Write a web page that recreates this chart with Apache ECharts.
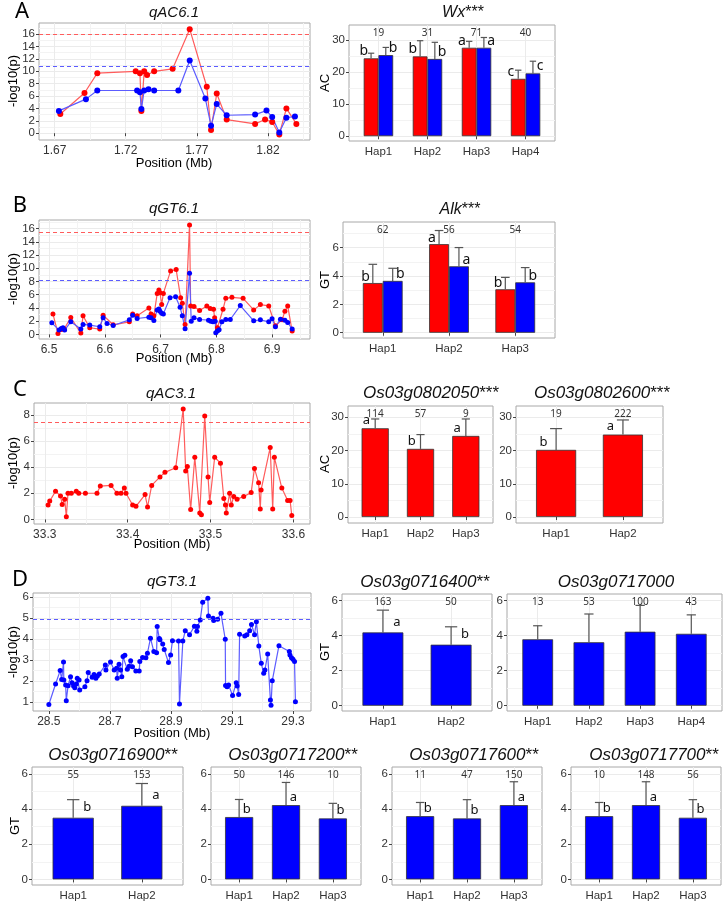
<!DOCTYPE html>
<html>
<head>
<meta charset="utf-8">
<title>QTL scans and haplotype bars</title>
<script src="https://cdn.jsdelivr.net/npm/echarts@6/dist/echarts.min.js"></script>
<style>
  html, body { margin: 0; padding: 0; background: #fff; }
  #main { width: 728px; height: 920px; }
</style>
</head>
<body>
<div id="main"></div>
<script>
// ---------- data ----------
// A: qAC6.1
const posA_red = [1.674, 1.691, 1.700, 1.727, 1.730, 1.731, 1.733, 1.735, 1.740, 1.753, 1.765, 1.777, 1.780, 1.784, 1.791, 1.811, 1.818, 1.823, 1.828, 1.833, 1.840];
const logpA_red = [3.1, 6.5, 9.7, 10.0, 9.7, 3.6, 10.0, 9.4, 10.0, 10.4, 16.8, 7.5, 0.5, 6.4, 2.2, 1.5, 2.2, 1.8, -0.2, 4.0, 1.5];
const posA_blue = [1.673, 1.692, 1.700, 1.728, 1.730, 1.731, 1.733, 1.736, 1.740, 1.757, 1.765, 1.776, 1.780, 1.784, 1.791, 1.811, 1.819, 1.823, 1.828, 1.833, 1.839];
const logpA_blue = [3.6, 5.5, 6.9, 6.9, 6.6, 3.9, 6.9, 7.1, 6.9, 6.9, 11.75, 5.6, 1.2, 4.7, 2.9, 3.0, 3.65, 2.6, 0.1, 2.5, 2.7];
const thrA = [16.0, 10.85]; // red, blue

// B: qGT6.1
const posB_red = [6.507, 6.516, 6.522, 6.527, 6.539, 6.557, 6.561, 6.573, 6.591, 6.597, 6.615, 6.644, 6.650, 6.658, 6.679, 6.683, 6.688, 6.694, 6.697, 6.699, 6.702, 6.705, 6.718, 6.728, 6.736, 6.739, 6.744, 6.752, 6.754, 6.760, 6.770, 6.783, 6.789, 6.795, 6.797, 6.802, 6.812, 6.817, 6.828, 6.848, 6.867, 6.879, 6.894, 6.906, 6.918, 6.923, 6.928, 6.936];
const logpB_red = [3.1, 0.15, 0.75, 0.8, 2.55, 0.2, 2.8, 1.0, 0.8, 2.9, 1.45, 1.9, 3.1, 2.8, 4.0, 3.1, 2.8, 6.2, 6.7, 6.3, 4.5, 6.2, 9.6, 9.8, 5.55, 4.7, 1.5, 16.55, 4.3, 4.2, 3.6, 4.3, 3.9, 3.8, 2.5, 1.0, 3.8, 5.45, 5.6, 5.45, 3.7, 4.5, 4.3, 1.3, 2.2, 3.5, 4.3, 0.5];
const posB_blue = [6.505, 6.518, 6.522, 6.525, 6.528, 6.539, 6.557, 6.561, 6.573, 6.591, 6.597, 6.604, 6.615, 6.644, 6.650, 6.658, 6.679, 6.683, 6.688, 6.694, 6.697, 6.699, 6.702, 6.705, 6.717, 6.727, 6.735, 6.739, 6.744, 6.752, 6.755, 6.760, 6.770, 6.786, 6.790, 6.794, 6.798, 6.799, 6.802, 6.805, 6.810, 6.817, 6.825, 6.843, 6.867, 6.879, 6.894, 6.900, 6.906, 6.915, 6.923, 6.928, 6.936];
const logpB_blue = [1.75, 0.65, 0.9, 1.0, 0.65, 1.9, 0.8, 1.5, 1.4, 1.15, 2.5, 1.65, 1.35, 2.2, 2.9, 2.4, 2.6, 2.5, 2.1, 3.7, 3.85, 3.5, 3.2, 3.1, 5.55, 5.7, 4.1, 2.8, 0.85, 9.25, 2.0, 2.5, 2.25, 2.15, 2.0, 1.9, 2.0, 0.25, 0.5, 0.7, 1.9, 2.25, 2.25, 4.35, 2.05, 2.2, 1.9, 2.35, 1.15, 2.3, 2.15, 1.8, 0.8];
const thrB = [15.5, 8.15];

// C: qAC3.1 (red only)
const posC = [33.304, 33.306, 33.313, 33.319, 33.321, 33.324, 33.326, 33.328, 33.332, 33.338, 33.341, 33.349, 33.363, 33.367, 33.380, 33.387, 33.392, 33.396, 33.398, 33.406, 33.410, 33.421, 33.424, 33.429, 33.439, 33.445, 33.458, 33.467, 33.470, 33.472, 33.476, 33.481, 33.487, 33.489, 33.493, 33.497, 33.499, 33.505, 33.512, 33.516, 33.518, 33.519, 33.523, 33.525, 33.528, 33.532, 33.540, 33.549, 33.553, 33.558, 33.560, 33.561, 33.572, 33.575, 33.577, 33.586, 33.593, 33.596, 33.598];
const logpC = [1.1, 1.4, 2.15, 1.8, 1.15, 1.55, 0.2, 2.0, 2.0, 2.15, 2.0, 2.0, 2.0, 2.55, 2.6, 2.0, 2.0, 2.4, 2.0, 1.1, 1.0, 1.9, 0.95, 2.6, 3.25, 3.6, 3.95, 8.45, 3.7, 4.05, 0.75, 4.75, 0.5, 0.35, 7.9, 3.25, 1.3, 4.75, 4.3, 1.6, 1.1, 0.5, 2.0, 1.1, 1.75, 1.55, 1.75, 2.05, 3.9, 2.8, 0.8, 2.25, 5.5, 0.8, 4.75, 2.4, 1.45, 1.45, 0.3];
const thrC = 7.42;

// D: qGT3.1 (blue only)
const posD = [28.500, 28.522, 28.537, 28.542, 28.548, 28.549, 28.555, 28.557, 28.563, 28.571,
  28.576, 28.581, 28.585, 28.590, 28.593, 28.599, 28.601, 28.618, 28.625, 28.629,
  28.642, 28.648, 28.654, 28.659, 28.665, 28.685, 28.687, 28.702, 28.714, 28.722,
  28.724, 28.730, 28.735, 28.739, 28.743, 28.749, 28.757, 28.763, 28.768, 28.774,
  28.785, 28.796, 28.798, 28.807, 28.818, 28.823, 28.833, 28.844, 28.853, 28.855,
  28.862, 28.864, 28.873, 28.878, 28.892, 28.899, 28.905, 28.925, 28.928, 28.939,
  28.947, 28.961, 28.977, 28.985, 28.987, 28.996, 29.004, 29.021, 29.023, 29.038,
  29.040, 29.053, 29.064, 29.078, 29.079, 29.084, 29.089, 29.102, 29.114, 29.117,
  29.122, 29.125, 29.142, 29.149, 29.158, 29.164, 29.174, 29.180, 29.188, 29.196,
  29.204, 29.208, 29.217, 29.226, 29.228, 29.232, 29.254, 29.288, 29.290, 29.295,
  29.300, 29.305, 29.308];
const logpD = [0.87, 1.85, 2.49, 2.07, 2.9, 2.04, 1.8, 1.05, 1.77, 2.2,
  1.91, 1.75, 1.67, 1.85, 2.12, 2.04, 1.56, 1.72, 2.0, 2.4,
  2.17, 2.3, 2.12, 2.23, 2.33, 2.76, 2.52, 2.9, 2.52, 2.6,
  2.12, 2.8, 2.52, 2.2, 3.16, 3.22, 2.55, 2.7, 2.96, 2.68,
  2.47, 2.47, 2.92, 3.12, 3.1, 3.32, 4.04, 3.4, 3.35, 4.6,
  4.02, 3.96, 3.76, 3.5, 2.88, 3.24, 3.92, 3.9, 0.89, 3.9,
  4.4, 4.21, 4.61, 4.37, 4.6, 4.91, 5.76, 5.95, 5.1, 4.99,
  4.88, 4.95, 5.23, 3.99, 1.78, 1.72, 1.8, 1.3, 1.91, 1.75,
  1.35, 4.23, 4.15, 4.2, 4.4, 4.7, 4.21, 4.83, 3.67, 2.84,
  2.36, 2.52, 3.28, 1.08, 0.84, 2.0, 3.68, 3.4, 3.24, 3.1,
  3.03, 2.92, 1.0];
const thrD = 4.93;

// haplotype bars: mean, sd, group size, letters
const hap2 = ['Hap1', 'Hap2'];
const hap3 = ['Hap1', 'Hap2', 'Hap3'];
const hap4 = ['Hap1', 'Hap2', 'Hap3', 'Hap4'];

const wxRed = [24.3, 24.9, 27.6, 17.9], wxRedSd = [1.6, 4.9, 2.0, 2.7];
const wxBlue = [25.3, 24.1, 27.6, 19.6], wxBlueSd = [2.4, 5.2, 3.2, 3.8];
const wxN = [19, 31, 71, 40], wxLet = ['b', 'b', 'a', 'c'];

const alkRed = [3.5, 6.24, 3.06], alkRedSd = [1.32, 0.96, 0.84];
const alkBlue = [3.65, 4.68, 3.55], alkBlueSd = [0.89, 1.32, 1.04];
const alkN = [62, 56, 54], alkLet = ['b', 'a', 'b'];

const g0802050 = [26.7, 20.5, 24.4], g0802050Sd = [2.8, 4.3, 5.1], g0802050N = [114, 57, 9], g0802050Let = ['a', 'b', 'a'];
const g0802600 = [20.2, 24.8], g0802600Sd = [6.4, 4.4], g0802600N = [19, 222], g0802600Let = ['b', 'a'];
const g0716400 = [4.18, 3.48], g0716400Sd = [1.27, 1.02], g0716400N = [163, 50], g0716400Let = ['a', 'b'];
const g0717000 = [3.79, 3.62, 4.22, 4.1], g0717000Sd = [0.77, 1.61, 1.5, 1.08], g0717000N = [13, 53, 100, 43];
const g0716900 = [3.51, 4.19], g0716900Sd = [1.03, 1.27], g0716900N = [55, 153], g0716900Let = ['b', 'a'];
const g0717200 = [3.55, 4.23, 3.47], g0717200Sd = [1.0, 1.29, 0.86], g0717200N = [50, 146, 10], g0717200Let = ['b', 'a', 'b'];
const g0717600 = [3.6, 3.47, 4.23], g0717600Sd = [0.78, 1.07, 1.33], g0717600N = [11, 47, 150], g0717600Let = ['b', 'b', 'a'];
const g0717700 = [3.6, 4.23, 3.51], g0717700Sd = [0.78, 1.33, 1.03], g0717700N = [10, 148, 56], g0717700Let = ['b', 'a', 'b'];

// ---------- styling ----------
const FONT = '"Liberation Sans", Arial, sans-serif';
const FONT2 = '"Noto Sans", "Open Sans", sans-serif';
const RED = '#ff0000', BLUE = '#0000ff';
const RED_LINE = '#ff5c5c', BLUE_LINE = '#5c5cff';

const grids = [], xAxes = [], yAxes = [], series = [];

function range(a, b, step) {
  const out = [];
  for (let v = a; v <= b + 1e-9; v += step) out.push(Math.round(v * 1000) / 1000);
  return out;
}

// one ggplot-like panel: border, major/minor grid, ticks and labels
function addPanel(p) {
  const gi = grids.length;
  grids.push({ left: p.box[0], top: p.box[1], width: p.box[2], height: p.box[3],
    show: true, borderColor: '#a8a8a8', borderWidth: 1, backgroundColor: '#fff' });
  const xi = xAxes.length, yi = yAxes.length;
  const tick = { show: true, length: 3, lineStyle: { color: '#444' } };
  xAxes.push({ type: 'value', gridIndex: gi, min: p.xr[0], max: p.xr[1], position: 'bottom',
    axisLine: { show: false },
    axisTick: Object.assign({ customValues: p.xMajor }, tick),
    axisLabel: { customValues: p.xMajor, formatter: p.xFmt, color: '#333', fontSize: p.tickSize || 12, fontFamily: FONT, margin: 5 },
    splitLine: { show: true, lineStyle: { color: '#ebebeb', width: 1 } } });
  xAxes.push({ type: 'value', gridIndex: gi, min: p.xr[0], max: p.xr[1], position: 'bottom',
    axisLine: { show: false }, axisLabel: { show: false },
    axisTick: { show: false, customValues: p.xMinor || [] },
    splitLine: { show: !!(p.xMinor && p.xMinor.length), lineStyle: { color: '#f3f3f3', width: 1 } } });
  yAxes.push({ type: 'value', gridIndex: gi, min: p.yr[0], max: p.yr[1], position: 'left',
    axisLine: { show: false },
    axisTick: Object.assign({ customValues: p.yMajor }, tick),
    axisLabel: { customValues: p.yMajor, color: '#333', fontSize: p.yTickSize || 11.5, fontFamily: FONT, margin: 4 },
    splitLine: { show: true, lineStyle: { color: '#ebebeb', width: 1 } } });
  yAxes.push({ type: 'value', gridIndex: gi, min: p.yr[0], max: p.yr[1], position: 'left',
    axisLine: { show: false }, axisLabel: { show: false },
    axisTick: { show: false, customValues: p.yMinor },
    splitLine: { show: true, lineStyle: { color: '#f3f3f3', width: 1 } } });
  return { xi, yi };
}

function scanLine(ax, pos, vals, dot, line, thr, size) {
  series.push({
    type: 'line', xAxisIndex: ax.xi, yAxisIndex: ax.yi, z: 3,
    data: pos.map((x, i) => [x, vals[i]]),
    symbol: 'circle', symbolSize: size, showSymbol: true,
    itemStyle: { color: dot }, lineStyle: { color: line, width: 1.2 },
    markLine: { silent: true, symbol: 'none', label: { show: false },
      itemStyle: { color: line },
      lineStyle: { type: [4, 3], color: line, width: 1.2 }, data: [{ yAxis: thr }] }
  });
}

// bar panel with sd whiskers, letters and group sizes
function barPanel(p) {
  const n = p.cats.length;
  const ax = addPanel({ box: p.box, xr: [0.4, n + 0.6], xMajor: range(1, n, 1),
    xFmt: v => p.cats[Math.round(v) - 1], yr: p.yr, yMajor: p.yMajor, yMinor: p.yMinor, tickSize: 11.5 });
  const step = p.box[2] / (n + 0.2);
  const k = p.groups.length;
  const bw = step * 0.6 / k;
  const cap = k > 1 ? step * 0.13 : step * 0.18;
  p.groups.forEach((g, gi) => {
    const off = (gi - (k - 1) / 2) * bw;
    series.push({ type: 'bar', xAxisIndex: ax.xi, yAxisIndex: ax.yi, z: 2,
      barWidth: bw, barGap: '0%',
      data: g.vals.map((v, i) => [i + 1, v]),
      itemStyle: { color: g.color, borderColor: '#333', borderWidth: 0.8 } });
    series.push({ type: 'custom', xAxisIndex: ax.xi, yAxisIndex: ax.yi, z: 4, silent: true,
      data: g.vals.map((v, i) => [i + 1, v, g.sd[i]]),
      renderItem(params, api) {
        const x = api.value(0), m = api.value(1), s = api.value(2);
        const p0 = api.coord([x, m]), p1 = api.coord([x, m + s]);
        const cx = p0[0] + off;
        const st = { stroke: '#555', lineWidth: 1.2 };
        const kids = [
          { type: 'line', shape: { x1: cx, y1: p0[1], x2: cx, y2: p1[1] }, style: st },
          { type: 'line', shape: { x1: cx - cap / 2, y1: p1[1], x2: cx + cap / 2, y2: p1[1] }, style: st }
        ];
        if (g.letters) {
          kids.push({ type: 'text', style: { text: g.letters[params.dataIndex],
            x: cx + g.ldx, y: p0[1] + p.ldy, align: 'center', verticalAlign: 'middle',
            textAlign: 'center', textVerticalAlign: 'middle',
            font: (p.lsize || 14) + 'px ' + FONT2, fill: '#111' } });
        }
        return { type: 'group', children: kids };
      } });
  });
  series.push({ type: 'custom', xAxisIndex: ax.xi, yAxisIndex: ax.yi, z: 5, silent: true,
    data: p.counts.map((c, i) => [i + 1, c]),
    renderItem(params, api) {
      const c = api.coord([api.value(0), 0]);
      return { type: 'text', style: { text: String(api.value(1)), x: c[0], y: params.coordSys.y + 8,
        align: 'center', verticalAlign: 'middle', textAlign: 'center', textVerticalAlign: 'middle',
        font: '10px ' + FONT2, fill: '#333' } };
    } });
}

// ---------- scans ----------
let ax = addPanel({ box: [39, 23, 271, 117], xr: [1.659, 1.8496], xMajor: [1.67, 1.72, 1.77, 1.82],
  xMinor: [1.695, 1.745, 1.795, 1.845], xFmt: v => v.toFixed(2),
  yr: [-1.1, 17.8], yMajor: range(0, 16, 2), yMinor: range(1, 17, 2) });
scanLine(ax, posA_red, logpA_red, RED, RED_LINE, thrA[0], 6);
scanLine(ax, posA_blue, logpA_blue, BLUE, BLUE_LINE, thrA[1], 6);

ax = addPanel({ box: [39, 220, 271, 119], xr: [6.482, 6.968], xMajor: range(6.5, 6.9, 0.1),
  xMinor: range(6.55, 6.95, 0.1), xFmt: v => v.toFixed(1),
  yr: [-0.7, 17.3], yMajor: range(0, 16, 2), yMinor: range(1, 17, 2) });
scanLine(ax, posB_red, logpB_red, RED, RED_LINE, thrB[0], 5);
scanLine(ax, posB_blue, logpB_blue, BLUE, BLUE_LINE, thrB[1], 5);

ax = addPanel({ box: [34, 403, 276, 121], xr: [33.287, 33.62], xMajor: range(33.3, 33.6, 0.1),
  xMinor: range(33.35, 33.55, 0.1), xFmt: v => v.toFixed(1),
  yr: [-0.35, 8.9], yMajor: range(0, 8, 2), yMinor: range(1, 7, 2) });
scanLine(ax, posC, logpC, RED, RED_LINE, thrC, 5);

ax = addPanel({ box: [33, 593, 278, 118], xr: [28.448, 29.359], xMajor: range(28.5, 29.3, 0.2),
  xMinor: range(28.6, 29.2, 0.2), xFmt: v => v.toFixed(1),
  yr: [0.56, 6.2], yMajor: range(1, 6, 1), yMinor: range(1.5, 5.5, 1) });
scanLine(ax, posD, logpD, BLUE, BLUE_LINE, thrD, 5);

// ---------- bars ----------
const acY = { yMajor: [0, 10, 20, 30], yMinor: [5, 15, 25] };
const gtY = { yr: [-0.3, 6.37], yMajor: [0, 2, 4, 6], yMinor: [1, 3, 5] };

barPanel({ box: [349, 25, 206, 116], cats: hap4, yr: [-1.5, 34.7], yMajor: acY.yMajor, yMinor: acY.yMinor,
  counts: wxN, ldy: -7,
  groups: [{ vals: wxRed, sd: wxRedSd, color: RED, letters: wxLet, ldx: -7.3 },
           { vals: wxBlue, sd: wxBlueSd, color: BLUE, letters: wxLet, ldx: 7.3 }] });
barPanel({ box: [343, 222, 212, 116], cats: hap3, yr: [-0.37, 7.8], yMajor: [0, 2, 4, 6], yMinor: [1, 3, 5, 7],
  counts: alkN, ldy: -6.5,
  groups: [{ vals: alkRed, sd: alkRedSd, color: RED, letters: alkLet, ldx: -7.2 },
           { vals: alkBlue, sd: alkBlueSd, color: BLUE, letters: alkLet, ldx: 7.6 }] });
barPanel({ box: [348, 406, 145, 117], cats: hap3, yr: [-1.8, 33.4], yMajor: acY.yMajor, yMinor: acY.yMinor,
  counts: g0802050N, ldy: -7.5, lsize: 13,
  groups: [{ vals: g0802050, sd: g0802050Sd, color: RED, letters: g0802050Let, ldx: -8.7 }] });
barPanel({ box: [516, 406, 147, 117], cats: hap2, yr: [-1.8, 33.4], yMajor: acY.yMajor, yMinor: acY.yMinor,
  counts: g0802600N, ldy: -8, lsize: 13,
  groups: [{ vals: g0802600, sd: g0802600Sd, color: RED, letters: g0802600Let, ldx: -12.5 }] });
barPanel({ box: [342, 594, 150, 117], cats: hap2, yr: gtY.yr, yMajor: gtY.yMajor, yMinor: gtY.yMinor,
  counts: g0716400N, ldy: -10.5, lsize: 13,
  groups: [{ vals: g0716400, sd: g0716400Sd, color: BLUE, letters: g0716400Let, ldx: 14 }] });
barPanel({ box: [507, 594, 215, 117], cats: hap4, yr: gtY.yr, yMajor: gtY.yMajor, yMinor: gtY.yMinor,
  counts: g0717000N, ldy: -8,
  groups: [{ vals: g0717000, sd: g0717000Sd, color: BLUE }] });

const rowE = [
  [32, hap2, g0716900, g0716900Sd, g0716900N, g0716900Let, 14, -10.5],
  [211, hap3, g0717200, g0717200Sd, g0717200N, g0717200Let, 7.5, -8],
  [392, hap3, g0717600, g0717600Sd, g0717600N, g0717600Let, 7.5, -8],
  [571, hap3, g0717700, g0717700Sd, g0717700N, g0717700Let, 7.5, -8]
];
rowE.forEach(r => {
  barPanel({ box: [r[0], 767, r[0] === 32 ? 151 : 150, 118], cats: r[1], yr: [-0.32, 6.4],
    yMajor: gtY.yMajor, yMinor: gtY.yMinor, counts: r[4], ldy: r[7], lsize: 13,
    groups: [{ vals: r[2], sd: r[3], color: BLUE, letters: r[5], ldx: r[6] }] });
});

// ---------- texts ----------
function txt(text, x, y, size, opt) {
  opt = opt || {};
  return { type: 'text', x: x, y: y, rotation: opt.rot || 0, silent: true, z: 10,
    style: { text: text, x: 0, y: 0, fill: opt.color || '#000',
      font: (opt.italic ? 'italic ' : '') + size + 'px ' + (opt.family || FONT),
      align: 'center', verticalAlign: 'middle', textAlign: 'center', textVerticalAlign: 'middle',
      rich: opt.rich } };
}
function geneTitle(name, stars, x, y, size) {
  return txt('{i|' + name + '}' + (stars ? '{n|' + stars + '}' : ''), x, y, size, {
    rich: { i: { fontStyle: 'italic', fontSize: size, fontFamily: FONT, fill: '#111' },
            n: { fontSize: size, fontFamily: FONT, fill: '#111' } } });
}
const ROT = Math.PI / 2;
const graphic = [
  txt('A', 22, 12, 22, { family: FONT2 }),
  txt('B', 20, 206, 22, { family: FONT2 }),
  txt('C', 20, 390, 22, { family: FONT2 }),
  txt('D', 20, 580, 22, { family: FONT2 }),

  geneTitle('qAC6.1', '', 174, 13, 15),
  geneTitle('Wx', '***', 463, 13, 16),
  geneTitle('qGT6.1', '', 174, 209, 15),
  geneTitle('Alk', '***', 460, 210, 16),
  geneTitle('qAC3.1', '', 171, 394, 15),
  geneTitle('Os03g0802050', '***', 431, 393, 17),
  geneTitle('Os03g0802600', '***', 602, 393, 17),
  geneTitle('qGT3.1', '', 172, 582, 15),
  geneTitle('Os03g0716400', '**', 425, 582, 17),
  geneTitle('Os03g0717000', '', 616, 582, 17),
  geneTitle('Os03g0716900', '**', 113, 755, 17),
  geneTitle('Os03g0717200', '**', 293, 755, 17),
  geneTitle('Os03g0717600', '**', 474, 755, 17),
  geneTitle('Os03g0717700', '**', 654, 755, 17),

  txt('-log10(p)', 13, 81, 13, { rot: ROT }),
  txt('-log10(p)', 13, 279, 13, { rot: ROT }),
  txt('-log10(p)', 13, 463, 13, { rot: ROT }),
  txt('-log10(p)', 13, 652, 13, { rot: ROT }),
  txt('Position (Mb)', 174, 163, 13),
  txt('Position (Mb)', 174, 358, 13),
  txt('Position (Mb)', 172, 544, 13),
  txt('Position (Mb)', 172, 733, 13),
  txt('AC', 325, 83, 13, { rot: ROT }),
  txt('GT', 325, 280, 13, { rot: ROT }),
  txt('AC', 325, 464, 13, { rot: ROT }),
  txt('GT', 325, 652, 13, { rot: ROT }),
  txt('GT', 15, 826, 13, { rot: ROT })
];

const chart = echarts.init(document.getElementById('main'), null, { renderer: 'canvas' });
chart.setOption({
  animation: false,
  backgroundColor: '#fff',
  grid: grids,
  xAxis: xAxes,
  yAxis: yAxes,
  series: series,
  graphic: graphic
});
</script>
</body>
</html>
